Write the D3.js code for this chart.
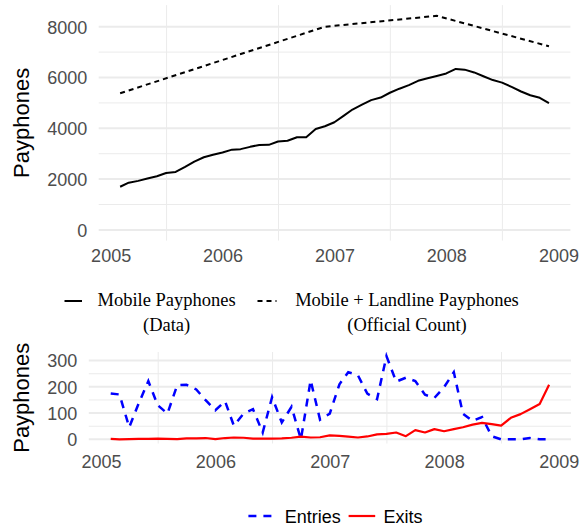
<!DOCTYPE html>
<html>
<head>
<meta charset="utf-8">
<script src="https://cdn.jsdelivr.net/npm/d3@7"></script>
<style>
  body { margin: 0; background: #fff; }
  svg { display: block; }
</style>
</head>
<body>
<svg id="chart" width="587" height="527"></svg>
<script>
// monthly observations, Feb 2005 .. Dec 2008
var months = d3.timeMonth.range(new Date(2005, 1, 1), new Date(2008, 11, 2));

var mobileCount = [1700, 1860, 1930, 2020, 2110, 2240, 2280, 2480, 2690, 2860, 2960, 3050,
                   3160, 3180, 3270, 3345, 3350, 3480, 3510, 3650, 3650, 3970, 4080, 4240,
                   4500, 4740, 4930, 5110, 5210, 5400, 5560, 5700, 5870, 5970, 6060, 6160,
                   6340, 6310, 6200, 6050, 5900, 5800, 5630, 5450, 5300, 5200, 4990];

var officialDates = [new Date(2005, 1, 1), new Date(2006, 11, 1), new Date(2007, 11, 1), new Date(2008, 11, 1)];
var officialCount = [5380, 8000, 8430, 7230];

var entries = [175, 171, 46, 136, 222, 130, 98, 206, 208, 190, 149, 111,
               145, 52, 98, 115, 26, 161, 64, 124, 0, 225, 75, 98,
               210, 256, 244, 174, 153, 317, 220, 235, 222, 170, 158, 199,
               256, 98, 70, 85, 12, 0, 0, 0, 5, 0, 0];

var exits = [2, 0, 1, 2, 2, 3, 2, 1, 4, 4, 5, 1,
             5, 7, 6, 3, 3, 3, 4, 6, 10, 7, 8, 15,
             13, 10, 7, 11, 19, 21, 26, 12, 35, 26, 39, 31,
             39, 46, 56, 63, 58, 52, 82, 96, 115, 135, 208];

var yearTicks = [2005, 2006, 2007, 2008, 2009];
var topYTicks = [0, 2000, 4000, 6000, 8000];
var bottomYTicks = [0, 100, 200, 300];

var sans = "'Liberation Sans', Arial, Helvetica, sans-serif";
var serif = "'Liberation Serif', 'Times New Roman', serif";
var gridColor = "#EBEBEB";

var svg = d3.select("#chart");

// ggplot style 5% expansion
function expand(ext) {
    var d = ext[1] - ext[0];
    return [ext[0] - d * 0.05, ext[1] + d * 0.05];
}

var xExtent = d3.extent(months).map(Number);
var xDomain = expand(xExtent);

function drawPanel(p) {
    var x = d3.scaleTime().domain(xDomain.map(function(t) { return new Date(t); })).range([p.left, p.right]);
    var y = d3.scaleLinear().domain(expand([0, p.ymax])).range([p.bottom, p.top]);

    var g = svg.append("g");

    // minor horizontal grid (midpoints of major breaks)
    var minorY = [];
    for (var i = 0; i < p.yticks.length - 1; i++) {
        minorY.push((p.yticks[i] + p.yticks[i + 1]) / 2);
    }
    g.selectAll(".minor-y").data(minorY).enter().append("line")
        .attr("x1", p.left).attr("x2", p.right)
        .attr("y1", function(d) { return y(d); })
        .attr("y2", function(d) { return y(d); })
        .attr("stroke", gridColor).attr("stroke-width", 1);

    // minor vertical grid (mid-year), major x grid is blank
    var minorX = [];
    for (var yr = 2004; yr <= 2009; yr++) {
        var m = new Date((+new Date(yr, 0, 1) + +new Date(yr + 1, 0, 1)) / 2);
        if (+m > xDomain[0] && +m < xDomain[1]) minorX.push(m);
    }
    g.selectAll(".minor-x").data(minorX).enter().append("line")
        .attr("x1", function(d) { return x(d); })
        .attr("x2", function(d) { return x(d); })
        .attr("y1", p.top).attr("y2", p.bottom)
        .attr("stroke", gridColor).attr("stroke-width", 1);

    g.selectAll(".major-y").data(p.yticks).enter().append("line")
        .attr("x1", p.left).attr("x2", p.right)
        .attr("y1", function(d) { return y(d); })
        .attr("y2", function(d) { return y(d); })
        .attr("stroke", gridColor).attr("stroke-width", 2);

    // axes, ticks hidden like theme_minimal
    var yAxis = d3.axisLeft(y).tickValues(p.yticks).tickFormat(d3.format("d"))
        .tickSize(0).tickPadding(11.5);
    var ya = g.append("g").attr("transform", "translate(" + p.left + ",0)").call(yAxis);
    ya.select(".domain").remove();
    ya.selectAll("text").attr("font-family", sans).attr("font-size", 18)
        .attr("fill", "#4D4D4D").attr("dy", "0.35em");

    var xAxis = d3.axisBottom(x)
        .tickValues(yearTicks.map(function(v) { return new Date(v, 0, 1); }))
        .tickFormat(d3.timeFormat("%Y")).tickSize(0).tickPadding(0);
    var xa = g.append("g").attr("transform", "translate(0," + p.xLabelBase + ")").call(xAxis);
    xa.select(".domain").remove();
    xa.selectAll("text").attr("font-family", sans).attr("font-size", 18)
        .attr("fill", "#4D4D4D").attr("dy", 0).attr("y", 0);

    g.append("text")
        .attr("transform", "translate(28.7," + ((p.top + p.bottom) / 2) + ") rotate(-90)")
        .attr("text-anchor", "middle")
        .attr("font-family", sans).attr("font-size", 22).attr("fill", "#000")
        .text("Payphones");

    return { x: x, y: y, g: g };
}

// ---------- top panel ----------
var upper = drawPanel({
    left: 98.7, right: 570.4, top: 5.1, bottom: 240.6,
    ymax: d3.max(officialCount), yticks: topYTicks, xLabelBase: 261.5
});

var lineTop = d3.line()
    .x(function(d) { return upper.x(d[0]); })
    .y(function(d) { return upper.y(d[1]); });

upper.g.append("path")
    .datum(officialDates.map(function(d, i) { return [d, officialCount[i]]; }))
    .attr("d", lineTop)
    .attr("fill", "none").attr("stroke", "#000").attr("stroke-width", 2)
    .attr("stroke-dasharray", "5,4");

upper.g.append("path")
    .datum(months.map(function(d, i) { return [d, mobileCount[i]]; }))
    .attr("d", lineTop)
    .attr("fill", "none").attr("stroke", "#000").attr("stroke-width", 2)
    .attr("stroke-linejoin", "round");

// top legend
var leg1 = svg.append("g");
leg1.append("line").attr("x1", 64.5).attr("x2", 82).attr("y1", 301).attr("y2", 301)
    .attr("stroke", "#000").attr("stroke-width", 2);
leg1.append("line").attr("x1", 257.5).attr("x2", 276.5).attr("y1", 301).attr("y2", 301)
    .attr("stroke", "#000").attr("stroke-width", 2).attr("stroke-dasharray", "5,4");

var legTexts = [
    { cx: 166.6, lines: ["Mobile Payphones", "(Data)"] },
    { cx: 407, lines: ["Mobile + Landline Payphones", "(Official Count)"] }
];
legTexts.forEach(function(t) {
    t.lines.forEach(function(s, i) {
        leg1.append("text")
            .attr("x", t.cx).attr("y", 306 + i * 24.5)
            .attr("text-anchor", "middle")
            .attr("font-family", serif).attr("font-size", 18.5).attr("fill", "#000")
            .text(s);
    });
});

// ---------- bottom panel ----------
var lower = drawPanel({
    left: 88.8, right: 571, top: 352, bottom: 443.5,
    ymax: d3.max(entries), yticks: bottomYTicks, xLabelBase: 468.3
});

var lineBot = d3.line()
    .x(function(d) { return lower.x(d[0]); })
    .y(function(d) { return lower.y(d[1]); });

lower.g.append("path")
    .datum(months.map(function(d, i) { return [d, entries[i]]; }))
    .attr("d", lineBot)
    .attr("fill", "none").attr("stroke", "#0000FF").attr("stroke-width", 2.5)
    .attr("stroke-dasharray", "8,7");

lower.g.append("path")
    .datum(months.map(function(d, i) { return [d, exits[i]]; }))
    .attr("d", lineBot)
    .attr("fill", "none").attr("stroke", "#FF0000").attr("stroke-width", 2.2)
    .attr("stroke-linejoin", "round");

// bottom legend (kept just inside the bottom edge)
var leg2 = svg.append("g");
leg2.append("line").attr("x1", 248.4).attr("x2", 274.6).attr("y1", 516).attr("y2", 516)
    .attr("stroke", "#0000FF").attr("stroke-width", 2.5).attr("stroke-dasharray", "8,7");
leg2.append("text").attr("x", 284.8).attr("y", 522.5)
    .attr("font-family", sans).attr("font-size", 18).attr("fill", "#000").text("Entries");
leg2.append("line").attr("x1", 348.6).attr("x2", 375.2).attr("y1", 516).attr("y2", 516)
    .attr("stroke", "#FF0000").attr("stroke-width", 2.2);
leg2.append("text").attr("x", 383.5).attr("y", 522.5)
    .attr("font-family", sans).attr("font-size", 18).attr("fill", "#000").text("Exits");
</script>
</body>
</html>
